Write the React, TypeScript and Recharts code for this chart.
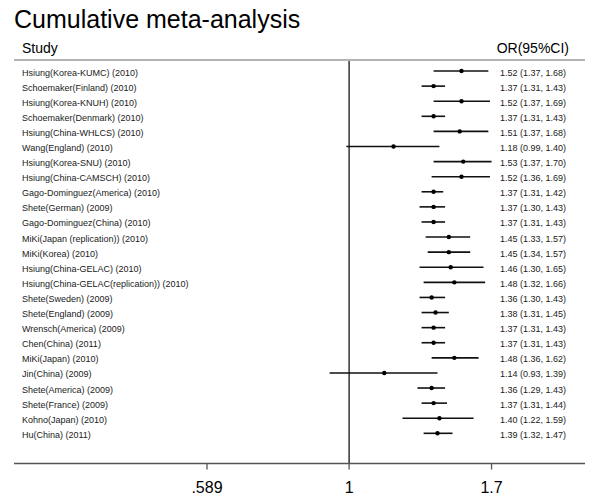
import { ScatterChart, Scatter, XAxis, YAxis, ErrorBar, ReferenceLine } from 'recharts'

const STUDIES = [
  'Hsiung(Korea-KUMC)',
  'Schoemaker(Finland)',
  'Hsiung(Korea-KNUH)',
  'Schoemaker(Denmark)',
  'Hsiung(China-WHLCS)',
  'Wang(England)',
  'Hsiung(Korea-SNU)',
  'Hsiung(China-CAMSCH)',
  'Gago-Dominguez(America)',
  'Shete(German)',
  'Gago-Dominguez(China)',
  'MiKi(Japan (replication))',
  'MiKi(Korea)',
  'Hsiung(China-GELAC)',
  'Hsiung(China-GELAC(replication))',
  'Shete(Sweden)',
  'Shete(England)',
  'Wrensch(America)',
  'Chen(China)',
  'MiKi(Japan)',
  'Jin(China)',
  'Shete(America)',
  'Shete(France)',
  'Kohno(Japan)',
  'Hu(China)',
]

const YEARS = [
  2010, 2010, 2010, 2010, 2010, 2010, 2010, 2010, 2010, 2009, 2010, 2010, 2010,
  2010, 2010, 2009, 2009, 2009, 2011, 2010, 2009, 2009, 2009, 2010, 2011,
]

const OR = [
  1.52, 1.37, 1.52, 1.37, 1.51, 1.18, 1.53, 1.52, 1.37, 1.37, 1.37, 1.45, 1.45,
  1.46, 1.48, 1.36, 1.38, 1.37, 1.37, 1.48, 1.14, 1.36, 1.37, 1.4, 1.39,
]

const CI_LOW = [
  1.37, 1.31, 1.37, 1.31, 1.37, 0.99, 1.37, 1.36, 1.31, 1.3, 1.31, 1.33, 1.34,
  1.3, 1.32, 1.3, 1.31, 1.31, 1.31, 1.36, 0.93, 1.29, 1.31, 1.22, 1.32,
]

const CI_HIGH = [
  1.68, 1.43, 1.69, 1.43, 1.68, 1.4, 1.7, 1.69, 1.42, 1.43, 1.43, 1.57, 1.57,
  1.65, 1.66, 1.43, 1.45, 1.43, 1.43, 1.62, 1.39, 1.43, 1.44, 1.59, 1.47,
]

const X_TICKS = [0.589, 1, 1.7]

const FONT = '"Liberation Sans", Arial, sans-serif'
const X_DOMAIN = [0.287, 2.408]

const data = STUDIES.map((name, i) => ({
  row: i + 1,
  label: `${name} (${YEARS[i]})`,
  or: OR[i],
  ci: [OR[i] - CI_LOW[i], CI_HIGH[i] - OR[i]],
  text: `${OR[i].toFixed(2)} (${CI_LOW[i].toFixed(2)}, ${CI_HIGH[i].toFixed(2)})`,
}))

const RowTick = ({ y, payload }: any) => {
  const d = data[payload.value - 1]
  if (!d) return null
  return (
    <g fontFamily={FONT} fontSize={9} fill="#1a1a1a">
      <text x={22} y={y + 4.5}>{d.label}</text>
      <text x={500} y={y + 4.5}>{d.text}</text>
    </g>
  )
}

const Dot = (props: any) => <circle cx={props.cx} cy={props.cy} r={2.2} fill="#000" />

export default function App() {
  return (
    <div style={{ position: 'absolute', left: 0, top: 0, width: 600, height: 503, background: '#fff' }}>
      <ScatterChart width={600} height={503} margin={{ top: 60, right: 15, bottom: 0, left: 14 }}>
        <XAxis
          type="number"
          dataKey="or"
          scale="log"
          domain={X_DOMAIN}
          allowDataOverflow
          ticks={X_TICKS}
          interval={0}
          height={39.5}
          tickSize={6}
          tickMargin={12}
          stroke="#555"
          strokeWidth={1.3}
          tick={{ fill: '#000', fontSize: 16, fontFamily: FONT }}
          tickFormatter={(v: number) => (v < 1 ? String(v).replace(/^0/, '') : String(v))}
        />
        <XAxis
          xAxisId="header"
          orientation="top"
          type="number"
          dataKey="or"
          scale="log"
          domain={X_DOMAIN}
          allowDataOverflow
          height={0}
          tick={false}
          tickLine={false}
          stroke="#aaa"
          strokeWidth={2}
        />
        <YAxis
          type="number"
          dataKey="row"
          domain={[0.27, 27]}
          allowDataOverflow
          reversed
          mirror
          ticks={data.map((d) => d.row)}
          interval={0}
          axisLine={false}
          tickLine={false}
          tick={<RowTick />}
        />
        <ReferenceLine x={1} stroke="#000" strokeWidth={1.2} />
        <Scatter data={data} shape={<Dot />} isAnimationActive={false}>
          <ErrorBar dataKey="ci" direction="x" width={0} stroke="#111" strokeWidth={1.6} />
        </Scatter>
      </ScatterChart>
      <div
        style={{
          position: 'absolute',
          left: 14,
          top: 59,
          width: 571,
          height: 2,
          background: '#b4b4b4',
          pointerEvents: 'none',
        }}
      />
      <svg width={600} height={58} style={{ position: 'absolute', left: 0, top: 0, pointerEvents: 'none' }}>
        <text x={14} y={28} fontFamily={FONT} fontSize={25} fill="#000">Cumulative meta-analysis</text>
        <text x={22} y={53} fontFamily={FONT} fontSize={14} fill="#000">Study</text>
        <text x={569} y={53} fontFamily={FONT} fontSize={14} fill="#000" textAnchor="end">OR(95%CI)</text>
      </svg>
    </div>
  )
}
